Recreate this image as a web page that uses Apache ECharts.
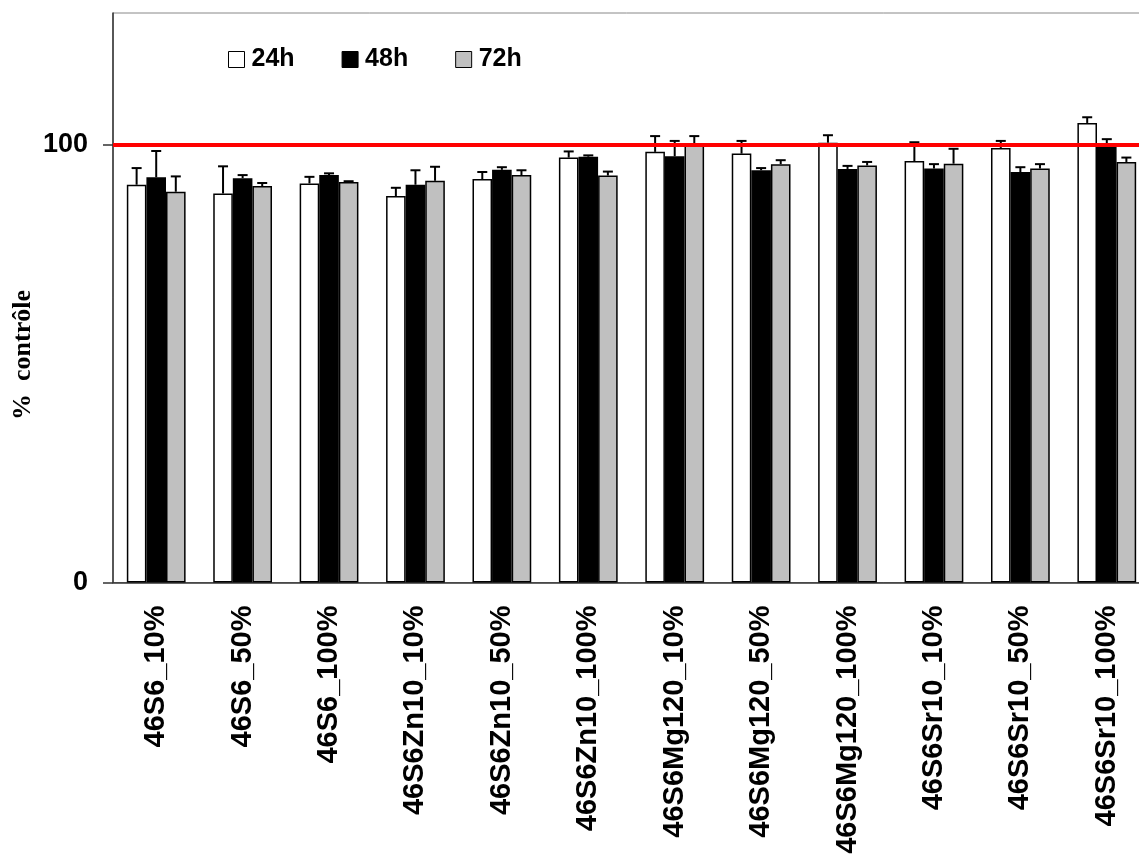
<!DOCTYPE html>
<html><head><meta charset="utf-8">
<script src="https://cdn.jsdelivr.net/npm/echarts@6/dist/echarts.min.js"></script>
<style>html,body{margin:0;padding:0;background:#fff}#c{width:1139px;height:857px}</style>
</head><body><div id="c"></div>
<script>
const categories = ['46S6_10%','46S6_50%','46S6_100%','46S6Zn10_10%','46S6Zn10_50%','46S6Zn10_100%','46S6Mg120_10%','46S6Mg120_50%','46S6Mg120_100%','46S6Sr10_10%','46S6Sr10_50%','46S6Sr10_100%'];
const seriesNames = ['24h','48h','72h'];
const v24 = [90.8, 88.8, 91.1, 88.2, 92.1, 97.0, 98.3, 97.9, 100.4, 96.2, 99.2, 104.9];
const e24 = [3.8, 6.2, 1.5, 1.9, 1.6, 1.4, 3.6, 2.9, 1.7, 4.3, 1.6, 1.3];
const v48 = [92.5, 92.3, 93.0, 90.8, 94.2, 97.2, 97.3, 94.1, 94.4, 94.5, 93.7, 100.2];
const e48 = [6.0, 0.7, 0.4, 3.3, 0.6, 0.3, 3.5, 0.5, 0.7, 1.0, 1.1, 1.0];
const v72 = [89.2, 90.5, 91.4, 91.7, 93.0, 92.9, 100.0, 95.5, 95.2, 95.6, 94.5, 96.0];
const e72 = [3.5, 0.7, 0.2, 3.2, 1.1, 0.9, 1.9, 0.9, 0.8, 3.4, 1.0, 1.0];
const yTicks = [0, 100];
const refValue = 100;

const values = [v24, v48, v72];
const errors = [e24, e48, e72];
const colors = ['#ffffff', '#000000', '#c0c0c0'];
const catGap = 0.32;

const chart = echarts.init(document.getElementById('c'));
const series = [];
series.push({
  type: 'line', data: [], z: 1, silent: true,
  markLine: { symbol: 'none', silent: true, label: { show: false },
    lineStyle: { color: '#ff0000', width: 4, type: 'solid' },
    data: [{ yAxis: refValue }] }
});
values.forEach((vals, i) => {
  series.push({
    name: seriesNames[i], type: 'bar', data: vals, z: 3,
    barGap: '0%', barCategoryGap: (catGap * 100) + '%',
    itemStyle: { color: colors[i], borderColor: '#000', borderWidth: 1.5 },
    emphasis: { disabled: true }
  });
});
values.forEach((vals, i) => {
  series.push({
    type: 'custom', z: 4, silent: true,
    data: vals.map((v, k) => [k, v, errors[i][k]]),
    renderItem: function (params, api) {
      const k = api.value(0), v = api.value(1), e = api.value(2);
      const catW = api.size([1, 0])[0];
      const bw = catW * (1 - catGap) / 3;
      const base = api.coord([k, v]);
      const top = api.coord([k, v + e]);
      const x = base[0] + (i - 1) * bw;
      const cap = 5;
      return { type: 'group', children: [
        { type: 'line', shape: { x1: x, y1: base[1], x2: x, y2: top[1] }, style: { stroke: '#000', lineWidth: 2 } },
        { type: 'line', shape: { x1: x - cap, y1: top[1], x2: x + cap, y2: top[1] }, style: { stroke: '#000', lineWidth: 2 } }
      ]};
    }
  });
});

chart.setOption({
  animation: false,
  backgroundColor: '#fff',
  grid: { left: 113, top: 13, height: 569.5, width: 1037, outerBoundsMode: 'none', containLabel: false, show: true, borderColor: '#888', borderWidth: 1 },
  legend: {
    data: seriesNames, left: 228, top: 47, padding: 0, icon: 'rect', itemWidth: 16, itemHeight: 16, itemGap: 47,
    itemStyle: { borderColor: '#000', borderWidth: 1 },
    textStyle: { fontFamily: 'Arial', fontWeight: 'bold', fontSize: 25, color: '#000', padding: [0, 0, 0, 2] }
  },
  xAxis: {
    type: 'category', data: categories,
    axisLine: { lineStyle: { color: '#333', width: 1.5 } },
    axisTick: { length: 9, lineStyle: { color: '#333', width: 1.5 } },
    axisLabel: { rotate: 90, margin: 23, interval: 0, fontFamily: 'Arial', fontWeight: 'bold', fontSize: 29, color: '#000' }
  },
  yAxis: {
    type: 'value', min: 0, max: 130, interval: 100,
    axisLine: { show: true, lineStyle: { color: '#333', width: 1.5 } },
    axisTick: { show: true, length: 10, customValues: yTicks, lineStyle: { color: '#333', width: 1.5 } },
    axisLabel: { customValues: yTicks, margin: 25, fontFamily: 'Arial', fontWeight: 'bold', fontSize: 27, color: '#000' },
    splitLine: { show: false }
  },
  graphic: [{
    type: 'text', z: 10, x: 23, y: 355, rotation: Math.PI / 2,
    style: { text: '%  contrôle', fontFamily: 'Liberation Serif', fontWeight: 'bold', fontSize: 26, fill: '#000', align: 'center', verticalAlign: 'middle' }
  }],
  series: series
});
</script></body></html>
